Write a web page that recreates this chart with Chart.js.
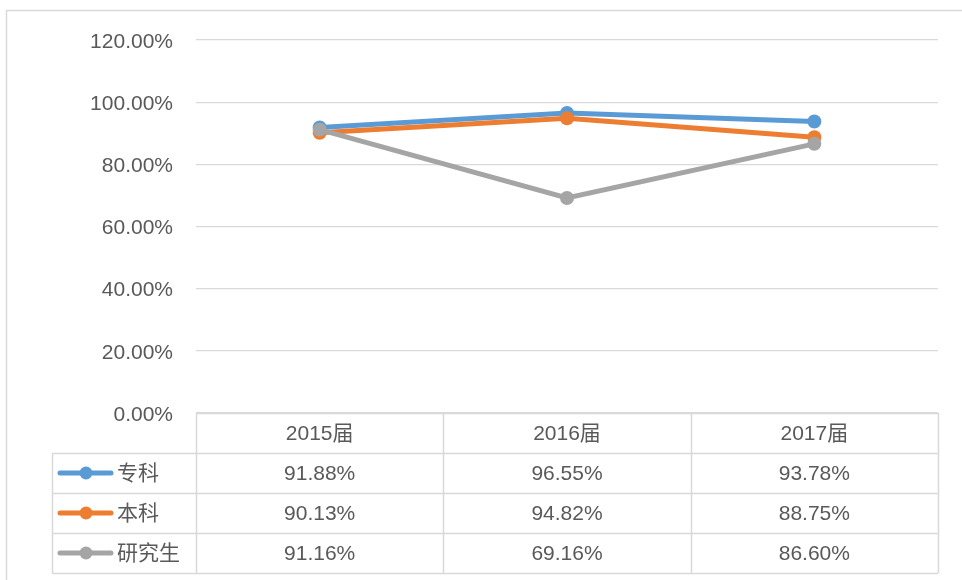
<!DOCTYPE html>
<html>
<head>
<meta charset="utf-8">
<script src="https://cdn.jsdelivr.net/npm/chart.js@4"></script>
<style>
  html, body { margin: 0; padding: 0; background: #fff; }
  #wrap { position: relative; width: 962px; height: 580px; }
</style>
</head>
<body>
<div id="wrap"><canvas id="rateChart"></canvas></div>
<script>
// 届别 / 学历层次
const years = ['2015届', '2016届', '2017届'];
const seriesNames = ['专科', '本科', '研究生'];
const zhuanke = [0.9188, 0.9655, 0.9378];
const benke = [0.9013, 0.9482, 0.8875];
const yanjiusheng = [0.9116, 0.6916, 0.8660];
const yTicks = [0, 0.2, 0.4, 0.6, 0.8, 1.0, 1.2];

const colors = ['#5B9BD5', '#ED7D31', '#A5A5A5'];
const FONT = '"Liberation Sans", "Noto Sans CJK SC", sans-serif';
const TEXT = '#595959';
const LINE = '#D9D9D9';

function pct(v) {
    return (v * 100).toFixed(2) + '%';
}

// --------------------------------------------------
//  data table under the plot (Excel style)
// --------------------------------------------------
const dataTable = {
    id: 'dataTable',
    afterDraw(chart) {
        const ctx = chart.ctx;
        const area = chart.chartArea;
        const xs = chart.scales.x;
        const sets = chart.data.datasets;
        const rowH = 40;
        const legendLeft = 52;
        const top = Math.round(area.bottom);
        const bottom = top + rowH * (sets.length + 1);
        const colW = area.width / years.length;

        ctx.save();
        ctx.strokeStyle = LINE;
        ctx.lineWidth = 1.5;

        // outer frame (left + top only, rest runs off the page)
        ctx.beginPath();
        ctx.moveTo(6.5, 580);
        ctx.lineTo(6.5, 10.5);
        ctx.lineTo(962, 10.5);
        ctx.stroke();

        // horizontal rules
        ctx.beginPath();
        ctx.moveTo(area.left, top + 0.5);
        ctx.lineTo(area.right, top + 0.5);
        for (let r = 1; r <= sets.length + 1; r++) {
            const y = top + r * rowH + 0.5;
            ctx.moveTo(legendLeft, y);
            ctx.lineTo(area.right, y);
        }
        // vertical rules
        for (let c = 0; c <= years.length; c++) {
            const x = Math.round(area.left + c * colW) + 0.5;
            ctx.moveTo(x, top);
            ctx.lineTo(x, bottom);
        }
        ctx.moveTo(legendLeft + 0.5, top + rowH);
        ctx.lineTo(legendLeft + 0.5, bottom);
        ctx.stroke();

        ctx.font = '21px ' + FONT;
        ctx.fillStyle = TEXT;
        ctx.textAlign = 'center';
        ctx.textBaseline = 'middle';

        // header
        years.forEach((label, i) => {
            ctx.fillText(label, xs.getPixelForValue(i), top + rowH / 2 + 1);
        });

        // rows
        sets.forEach((ds, r) => {
            const cy = top + rowH * (r + 1) + rowH / 2;
            ds.data.forEach((v, i) => {
                ctx.fillStyle = TEXT;
                ctx.textAlign = 'center';
                ctx.fillText(pct(v), xs.getPixelForValue(i), cy + 1);
            });

            // legend key
            ctx.strokeStyle = ds.borderColor;
            ctx.lineWidth = 5;
            ctx.lineCap = 'round';
            ctx.beginPath();
            ctx.moveTo(60, cy);
            ctx.lineTo(111, cy);
            ctx.stroke();
            ctx.fillStyle = ds.borderColor;
            ctx.beginPath();
            ctx.arc(86, cy, 6.5, 0, Math.PI * 2);
            ctx.fill();

            ctx.fillStyle = TEXT;
            ctx.textAlign = 'left';
            ctx.fillText(ds.label, 117, cy + 1);
        });

        ctx.restore();
    }
};

const values = [zhuanke, benke, yanjiusheng];

new Chart(document.getElementById('rateChart'), {
    type: 'line',
    data: {
        labels: years,
        datasets: seriesNames.map((name, i) => ({
            label: name,
            data: values[i],
            borderColor: colors[i],
            backgroundColor: colors[i],
            pointBackgroundColor: colors[i],
            pointBorderColor: colors[i],
            borderWidth: 5,
            pointRadius: 7,
            pointBorderWidth: 0,
            tension: 0,
            order: seriesNames.length - i
        }))
    },
    options: {
        responsive: true,
        maintainAspectRatio: false,
        animation: false,
        layout: { padding: { top: 40, right: 24, bottom: 167, left: 0 } },
        plugins: {
            legend: { display: false },
            tooltip: { enabled: false }
        },
        scales: {
            x: {
                display: false,
                offset: true
            },
            y: {
                min: 0,
                max: 1.2,
                afterFit(scale) { scale.width = 196; },
                afterBuildTicks(scale) {
                    scale.ticks = yTicks.map(v => ({ value: v }));
                },
                border: { display: false },
                grid: { color: LINE, lineWidth: 1.2, drawTicks: false },
                ticks: {
                    padding: 23,
                    labelOffset: 2,
                    color: TEXT,
                    font: { family: FONT, size: 21 },
                    callback: v => pct(v)
                }
            }
        }
    },
    plugins: [dataTable]
});
</script>
</body>
</html>
